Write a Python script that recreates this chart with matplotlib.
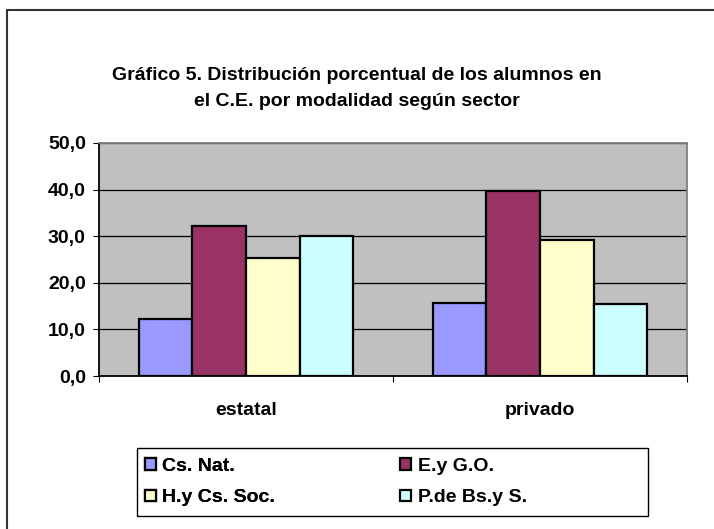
import numpy as np
import matplotlib.pyplot as plt
from matplotlib.patches import Rectangle

plt.rcParams['font.family'] = ['Liberation Sans', 'DejaVu Sans']
plt.rcParams['font.weight'] = 'bold'

sectores = ['estatal', 'privado']
modalidades = ['Cs. Nat.', 'E.y G.O.', 'H.y Cs. Soc.', 'P.de Bs.y S.']
cs_nat = [12.3, 15.6]
eyg_o = [32.1, 39.6]
hy_cs_soc = [25.3, 29.1]
pde_bs = [30.0, 15.5]
colores = ['#9999FF', '#993366', '#FFFFCC', '#CCFFFF']

W, H = 714, 529
fs = 14
fig = plt.figure(figsize=(W / 100, H / 100), dpi=100)

# frame of the chart area (Excel style)
fig.patches.append(Rectangle((7 / W, -0.1), 1.2, 1 - 10 / H + 0.1, transform=fig.transFigure,
                             fill=False, edgecolor='#333333', linewidth=1.5))

ax = fig.add_axes([99 / W, 1 - 376 / H, 588 / W, 233 / H])
ax.set_facecolor('#C0C0C0')

x = np.arange(len(sectores))
ancho = 0.182
series = [cs_nat, eyg_o, hy_cs_soc, pde_bs]
barras = []
for i, (vals, nombre, c) in enumerate(zip(series, modalidades, colores)):
    b = ax.bar(x + (i - 1.5) * ancho, vals, ancho, color=c, edgecolor='black',
               linewidth=1.6, label=nombre, zorder=3)
    barras.append(b)

ax.set_xlim(-0.5, 1.5)
ax.set_ylim(0, 50)
ax.set_yticks(np.arange(0, 51, 10))
ax.set_yticklabels([f'{v:.1f}'.replace('.', ',') for v in np.arange(0, 51, 10)], fontsize=fs)
ax.yaxis.grid(True, color='black', linewidth=0.9, zorder=1)
ax.set_axisbelow(True)

ax.set_xticks([-0.5, 0.5, 1.5])
ax.set_xticklabels([])
ax.tick_params(axis='x', length=4.5, direction='out', color='black')
ax.tick_params(axis='y', length=4.5, direction='out', color='black', pad=5)
for xi, s in zip(x, sectores):
    ax.text(xi, -7.3, s, ha='center', va='center', fontsize=fs, fontweight='bold')

ax.spines['left'].set_color('black')
ax.spines['bottom'].set_color('black')
ax.spines['top'].set_color('#808080')
ax.spines['right'].set_color('#808080')
for sp in ax.spines.values():
    sp.set_linewidth(1.3)

fig.text(357 / W, 1 - 76 / H, 'Gráfico 5. Distribución porcentual de los alumnos en',
         ha='center', va='center', fontsize=fs, fontweight='bold')
fig.text(357 / W, 1 - 101 / H, 'el C.E. por modalidad según sector',
         ha='center', va='center', fontsize=fs, fontweight='bold')

# legend box with two columns
fig.patches.append(Rectangle((137 / W, 1 - 516 / H), 511 / W, 68 / H, transform=fig.transFigure,
                             fill=False, edgecolor='black', linewidth=1.0))
opts = dict(loc='center left', fontsize=fs, frameon=False, handlelength=0.55,
            handleheight=0.55, handletextpad=0.35, labelspacing=0.75,
            borderpad=0, borderaxespad=0)
leg1 = fig.legend([barras[0], barras[2]], [modalidades[0], modalidades[2]],
                  bbox_to_anchor=(145 / W, 1 - 482 / H), **opts)
fig.add_artist(leg1)
fig.legend([barras[1], barras[3]], [modalidades[1], modalidades[3]],
           bbox_to_anchor=(400 / W, 1 - 482 / H), **opts)

fig.savefig('out.png', dpi=100)
